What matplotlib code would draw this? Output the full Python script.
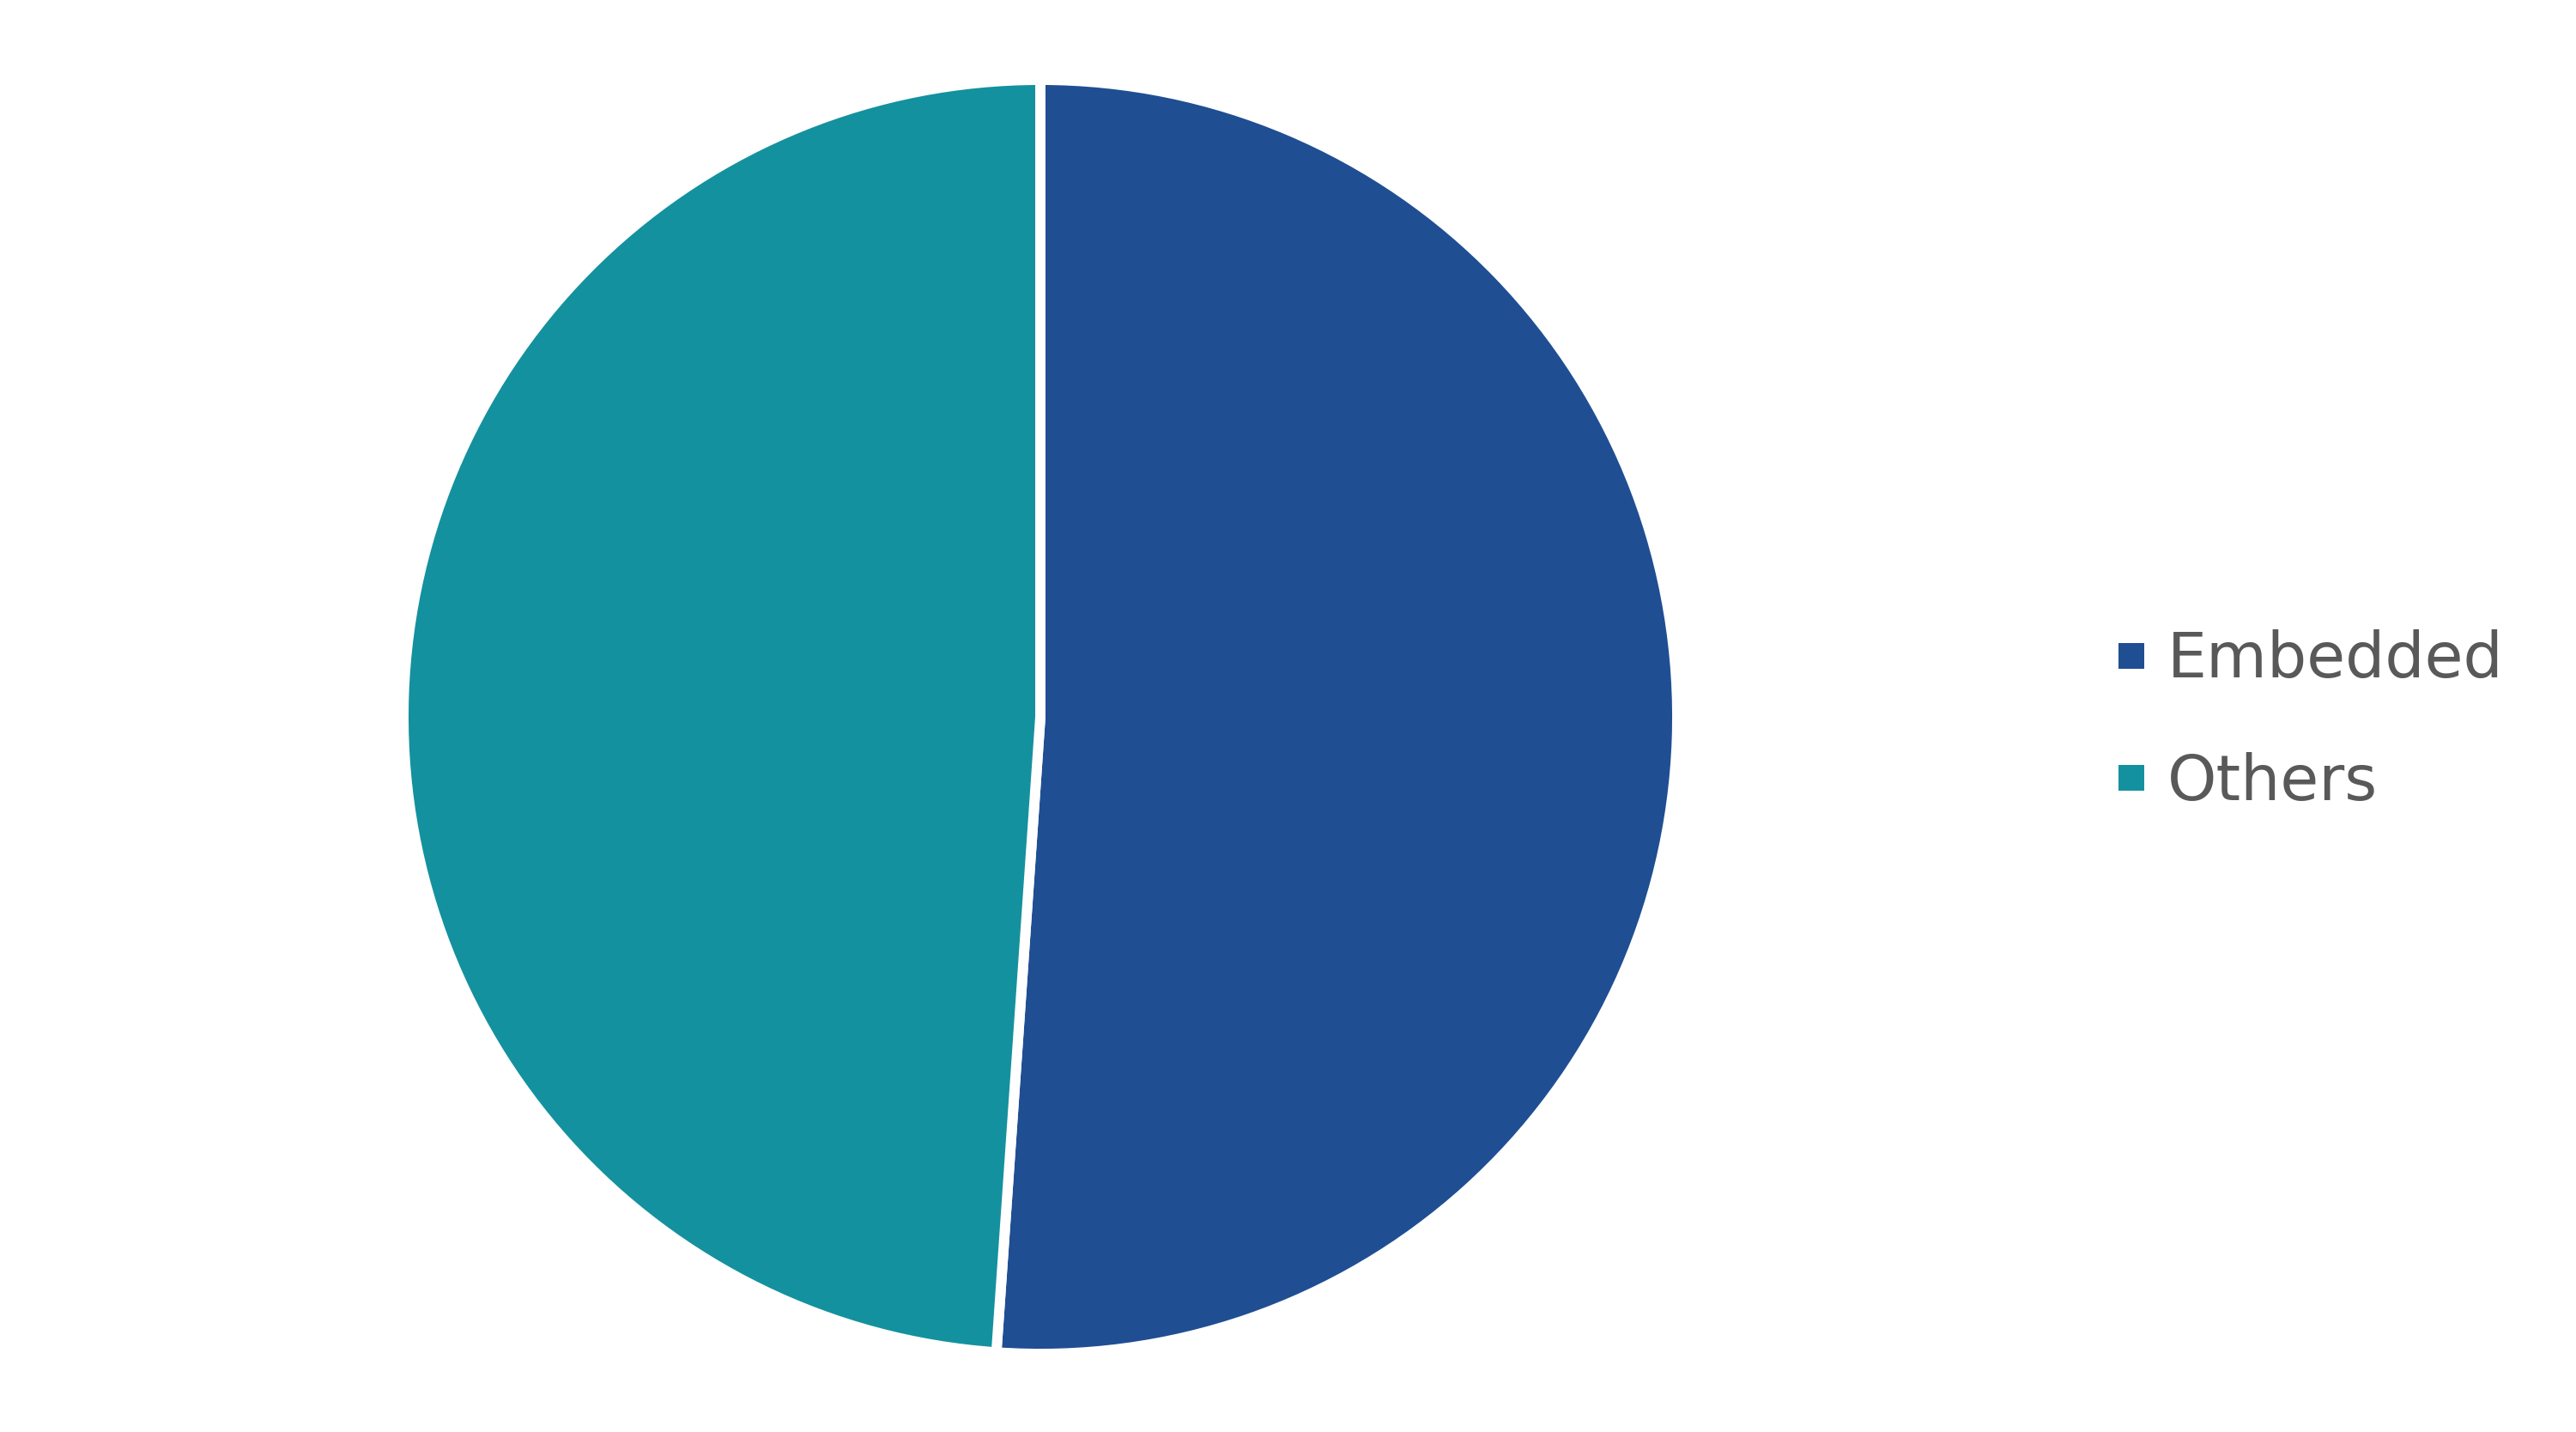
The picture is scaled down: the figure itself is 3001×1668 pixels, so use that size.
import matplotlib
matplotlib.use("Agg")
import matplotlib.pyplot as plt
from matplotlib.lines import Line2D

categories = ["Embedded", "Others"]
values = [51.1, 48.9]
colors = ["#1f4e93", "#14919e"]

W, H = 3001, 1668
fig = plt.figure(figsize=(W / 100, H / 100), dpi=100)
cx, cy, r = 1212, 1668 - 835, 742
ax = fig.add_axes([(cx - r) / W, (cy - r) / H, 2 * r / W, 2 * r / H])
ax.pie(values, colors=colors, startangle=90, counterclock=False, radius=1,
       wedgeprops=dict(edgecolor="white", linewidth=8.6))
ax.set_xlim(-1, 1)
ax.set_ylim(-1, 1)
ax.set_aspect("equal")
ax.axis("off")

handles = [Line2D([], [], linestyle="none", marker="s", markersize=20.9,
                  markerfacecolor=c, markeredgewidth=0) for c in colors]
leg = fig.legend(handles, categories, loc="center left",
                 bbox_to_anchor=(2468 / W, 828 / H), frameon=False,
                 borderpad=0, borderaxespad=0, handlelength=0.4,
                 handletextpad=0.38, labelspacing=0.98,
                 prop=dict(family="DejaVu Sans", size=52.5))
for t in leg.get_texts():
    t.set_color("#595959")

fig.savefig("out.png", dpi=100, facecolor="white")
